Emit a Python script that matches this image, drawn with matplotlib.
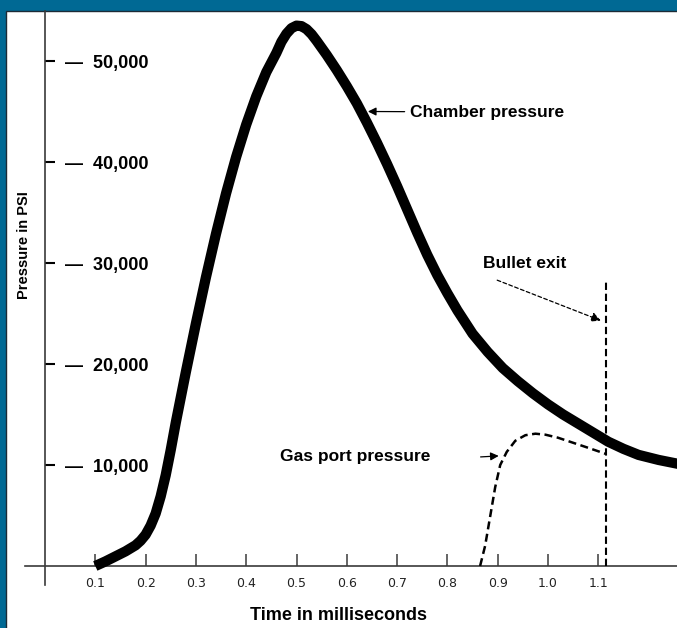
import matplotlib
matplotlib.use("Agg")
import matplotlib.pyplot as plt
from matplotlib import font_manager
from matplotlib.patches import Rectangle

# chamber pressure curve (time in ms, pressure in psi)
chamber_t = [0.10, 0.12, 0.14, 0.16, 0.18, 0.19, 0.20, 0.21, 0.22, 0.23, 0.24,
             0.25, 0.26, 0.28, 0.30, 0.32, 0.34, 0.36, 0.38, 0.40, 0.42, 0.44,
             0.46, 0.47, 0.48, 0.49, 0.50, 0.51, 0.52, 0.53, 0.54, 0.56, 0.58,
             0.60, 0.62, 0.64, 0.66, 0.68, 0.70, 0.72, 0.74, 0.76, 0.78, 0.80,
             0.82, 0.85, 0.88, 0.91, 0.94, 0.97, 1.00, 1.03, 1.06, 1.09, 1.12,
             1.15, 1.18, 1.22, 1.26]
chamber_p = [0, 450, 950, 1450, 2050, 2500, 3100, 4000, 5200, 6900, 9000,
             11500, 14200, 19200, 24000, 28600, 32900, 36900, 40500, 43700, 46500, 48900,
             50800, 51900, 52700, 53250, 53500, 53450, 53150, 52650, 52000, 50600, 49100,
             47500, 45800, 43900, 41900, 39800, 37600, 35300, 33000, 30800, 28800, 27000,
             25300, 23000, 21200, 19600, 18300, 17100, 16000, 15000, 14100, 13200, 12300,
             11600, 11000, 10500, 10100]

# gas port pressure
gas_t = [0.865, 0.875, 0.885, 0.895, 0.905, 0.918, 0.935, 0.955, 0.975, 0.995,
         1.02, 1.05, 1.08, 1.115]
gas_p = [0, 2000, 4900, 7800, 10000, 11300, 12400, 12950, 13100, 13000,
         12700, 12200, 11700, 11100]

bullet_exit_t = 1.115
bullet_exit_top = 28100

xticks = [0.1, 0.2, 0.3, 0.4, 0.5, 0.6, 0.7, 0.8, 0.9, 1.0, 1.1]
xtick_labels = ["0.1", "0.2", "0.3", "0.4", "0.5", "0.6", "0.7", "0.8", "0.9", "1.0", "1.1"]
yticks = [10000, 20000, 30000, 40000, 50000]

# pick a narrow bold font if there is one
names = {f.name for f in font_manager.fontManager.ttflist}
if "Liberation Sans Narrow" in names:
    bold_font = "Liberation Sans Narrow"
else:
    bold_font = "Liberation Sans"

W, H = 677, 628
fig = plt.figure(figsize=(W / 100, H / 100), dpi=100)
fig.patch.set_facecolor("#006994")
fig.patches.append(Rectangle((6 / W, -0.1), 1.2, (H - 11) / H + 0.1,
                             transform=fig.transFigure, facecolor="white",
                             edgecolor="#1c2b36", lw=1.0, zorder=-5))

ax = fig.add_axes([6 / W, 0, (W - 6) / W, (H - 11) / H])
ax.patch.set_alpha(0)

# pixel mapping: x_px = 45 + 503*t, y_px = 566 - 101*p/1e4
ax.set_xlim((6 - 45) / 503, (W - 45) / 503)
ax.set_ylim((566 - H) / 101 * 1e4, (566 - 11) / 101 * 1e4)

axis_col = "#3a3a3a"
for s in ["top", "right"]:
    ax.spines[s].set_visible(False)
ax.spines["left"].set_position(("data", 0))
ax.spines["bottom"].set_position(("data", 0))
ax.spines["left"].set_bounds((566 - 585) / 101 * 1e4, (566 - 11) / 101 * 1e4)
ax.spines["bottom"].set_bounds((25 - 45) / 503, (W - 45) / 503)
for s in ["left", "bottom"]:
    ax.spines[s].set_color(axis_col)
    ax.spines[s].set_linewidth(1.2)

ax.plot(chamber_t, chamber_p, color="black", lw=7.4, solid_joinstyle="round",
        solid_capstyle="butt", zorder=3)
ax.plot(gas_t, gas_p, color="black", lw=1.8, linestyle=(0, (3.2, 1.8)), zorder=3)
ax.plot([bullet_exit_t, bullet_exit_t], [0, bullet_exit_top], color="black",
        lw=1.5, linestyle=(0, (3.5, 1.8)), zorder=3)

ax.set_xticks(xticks)
ax.set_xticklabels(xtick_labels, fontsize=9, color="#222222")
ax.tick_params(axis="x", direction="in", length=8.5, width=1.1, color=axis_col, pad=8)

ax.set_yticks(yticks)
ax.set_yticklabels(["—  {:,}".format(v) for v in yticks], fontsize=13,
                   fontfamily=bold_font, fontweight="bold")
ax.tick_params(axis="y", direction="in", length=7, width=1.5, color="black", pad=-14.4)
for lbl in ax.get_yticklabels():
    lbl.set_horizontalalignment("left")

ax.set_xlabel("Time in milliseconds", fontsize=13, fontfamily=bold_font,
              fontweight="bold", va="center")
ax.xaxis.set_label_coords((338 - 6) / (W - 6), (H - 615) / (H - 11))
ax.set_ylabel("Pressure in PSI", fontsize=10.5, fontfamily=bold_font,
              fontweight="bold", va="center")
ax.yaxis.set_label_coords((24 - 6) / (W - 6), (H - 245) / (H - 11))

# annotations
ax.annotate("Chamber pressure", xy=(0.642, 45000), xytext=(0.726, 44950),
            fontsize=12.5, fontfamily=bold_font, fontweight="bold", va="center",
            arrowprops=dict(arrowstyle="-|>", color="black", lw=0.9,
                            mutation_scale=12, shrinkA=2, shrinkB=0))
ax.text(0.467, 10800, "Gas port pressure", fontsize=12.5, fontfamily=bold_font,
        fontweight="bold", va="center")
ax.annotate("", xy=(0.902, 10900), xytext=(0.866, 10800),
            arrowprops=dict(arrowstyle="-|>", color="black", lw=0.9,
                            mutation_scale=12, shrinkA=0, shrinkB=0))
ax.text(0.871, 30000, "Bullet exit", fontsize=12.5, fontfamily=bold_font,
        fontweight="bold", va="center")
ax.annotate("", xy=(1.105, 24300), xytext=(0.899, 28300),
            arrowprops=dict(arrowstyle="-|>", color="black", lw=0.9,
                            linestyle=(0, (3, 2)), mutation_scale=14,
                            shrinkA=0, shrinkB=0))

fig.savefig("out.png", dpi=100, facecolor=fig.get_facecolor())
